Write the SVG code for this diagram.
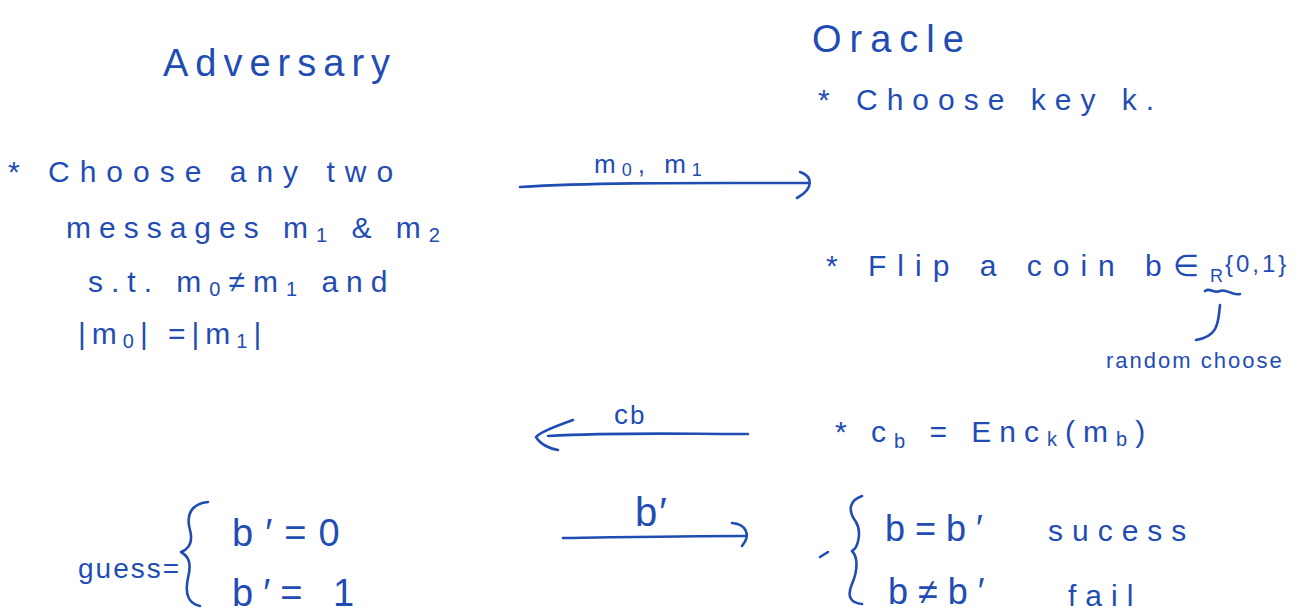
<svg xmlns="http://www.w3.org/2000/svg" width="1312" height="614" viewBox="0 0 1312 614">
<style>
text{font-family:"Liberation Sans","DejaVu Sans",sans-serif;fill:#1f4db3;}
.h{font-size:38px;letter-spacing:12px;}
.t{font-size:30px;letter-spacing:9px;}
.s{font-size:22px;letter-spacing:5px;}
.ln{fill:none;stroke:#1f4db3;stroke-width:2.6;stroke-linecap:round;stroke-linejoin:round;}
</style>
<rect width="1312" height="614" fill="#ffffff"/>
<g id="adversary-title"><text class="h" x="163" y="76" style="letter-spacing:7px">Adversary</text></g>
<g id="oracle-title"><text class="h" x="812" y="52" style="letter-spacing:8px">Oracle</text></g>
<g id="oracle-key"><text class="t" x="818" y="110" style="letter-spacing:9px">* Choose key k.</text></g>
<g id="adversary-choose">
<text class="t" x="8" y="182" style="letter-spacing:10px">* Choose  any  two</text>
<text class="t" x="66" y="238" style="letter-spacing:8px">messages   m<tspan font-size="20" dy="4">1</tspan><tspan dy="-4"> &amp; m</tspan><tspan font-size="20" dy="4">2</tspan></text>
<text class="t" x="88" y="292" style="letter-spacing:8px">s.t.  m<tspan font-size="20" dy="4">0</tspan><tspan dy="-4">≠m</tspan><tspan font-size="20" dy="4">1</tspan><tspan dy="-4">   and</tspan></text>
<text class="t" x="78" y="344" style="letter-spacing:6px">|m<tspan font-size="20" dy="4">0</tspan><tspan dy="-4">| =|m</tspan><tspan font-size="20" dy="4">1</tspan><tspan dy="-4">|</tspan></text>
</g>
<g id="oracle-flip">
<text class="t" x="826" y="276" style="letter-spacing:11px">* Flip  a  coin   b∈<tspan font-size="18" dy="6" style="letter-spacing:2px">R</tspan><tspan font-size="24" dy="-10" style="letter-spacing:3px">{0,1}</tspan></text>
<text class="s" x="1106" y="368" style="letter-spacing:2px">random choose</text>
</g>
<g id="oracle-enc"><text class="t" x="835" y="442" style="letter-spacing:8px">* c<tspan font-size="20" dy="6">b</tspan><tspan dy="-6"> = Enc</tspan><tspan font-size="20" dy="4">k</tspan><tspan dy="-4">(m</tspan><tspan font-size="20" dy="4">b</tspan><tspan dy="-4">)</tspan></text></g>
<g id="guess">
<text class="t" x="78" y="578" style="letter-spacing:2px;font-size:28px">guess=</text>
<text class="t" x="232" y="546" style="font-size:38px;letter-spacing:12px">b′=0</text>
<text class="t" x="232" y="606" style="font-size:38px;letter-spacing:10px">b′= 1</text>
</g>
<g id="result">
<text class="t" x="885" y="541" style="font-size:36px;letter-spacing:10px">b=b′</text>
<text class="t" x="1048" y="541" style="letter-spacing:9px">sucess</text>
<text class="t" x="888" y="604" style="font-size:36px;letter-spacing:10px">b≠b′</text>
<text class="t" x="1068" y="606" style="letter-spacing:9px">fail</text>
</g>
<g id="connectors">
<path class="ln" d="M520 187 C600 182 700 183 808 183"/>
<path class="ln" d="M800 172 C812 176 815 188 797 198"/>
<text class="t" x="594" y="173" style="font-size:26px;letter-spacing:6px">m<tspan font-size="18" dy="3">0</tspan><tspan dy="-3">, m</tspan><tspan font-size="18" dy="3">1</tspan></text>
<path class="ln" d="M748 434 C680 434 620 432 548 436"/>
<path class="ln" d="M573 420 C556 426 540 432 536 437 C540 444 550 449 558 450"/>
<text class="t" x="614" y="424" style="font-size:28px;letter-spacing:2px">c<tspan font-size="26">b</tspan></text>
<path class="ln" d="M563 538 C630 537 690 536 745 536"/>
<path class="ln" d="M732 523 C745 524 752 534 742 546"/>
<text class="t" x="635" y="526" style="font-size:40px;letter-spacing:2px">b′</text>
<path class="ln" d="M1205 291 C1210 287 1214 294 1220 291 C1226 288 1232 296 1240 294"/>
<path class="ln" d="M1220 305 C1218 320 1220 336 1196 340"/>
<path class="ln" d="M208 502 C190 504 186 516 190 530 C194 545 186 550 181 552 C188 556 192 562 188 578 C184 596 190 604 200 606"/>
<path class="ln" d="M862 496 C850 500 847 510 856 522 C862 532 858 548 852 551 C858 557 858 570 852 584 C846 598 852 603 862 604"/>
<path class="ln" d="M820 557 L828 552"/>
</g>
</svg>
